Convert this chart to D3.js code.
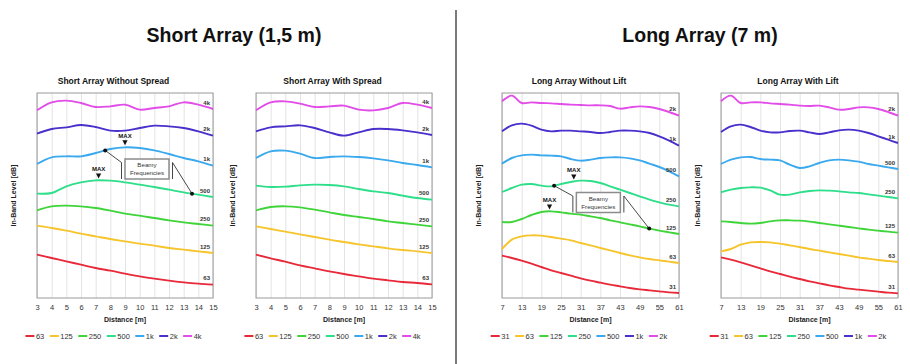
<!DOCTYPE html>
<html>
<head>
<meta charset="utf-8">
<script src="https://cdn.jsdelivr.net/npm/d3@7"></script>
<style>
  body { margin: 0; background: #fff; }
  svg { font-family: "Liberation Sans", Arial, sans-serif; }
</style>
</head>
<body>
<svg id="chart" width="910" height="364"></svg>
<script>
// distances [m]
const shortDistance = [3, 4, 5, 6, 7, 8, 9, 10, 11, 12, 13, 14, 15];
const longDistance = [7, 10, 13, 16, 19, 22, 25, 28, 31, 34, 37, 40, 43, 46, 49, 52, 55, 58, 61];
const shortTicks = [3, 4, 5, 6, 7, 8, 9, 10, 11, 12, 13, 14, 15];
const longTicks = [7, 13, 19, 25, 31, 37, 43, 49, 55, 61];

const shortBands = ["63", "125", "250", "500", "1k", "2k", "4k"];
const longBands = ["31", "63", "125", "250", "500", "1k", "2k"];
const bandColors = ["#e8293a", "#f6c42b", "#3fd43a", "#2fde8a", "#3aa9ee", "#4930cc", "#e24ce8"];

// in-band level (relative dB, offset per band), one row per band, lowest band first
const shortWithoutSpread = [
  [13.0, 12.0, 11.0, 10.0, 9.0, 8.2, 7.3, 6.5, 5.8, 5.2, 4.7, 4.3, 4.0],
  [21.7, 21.0, 20.2, 19.3, 18.5, 17.7, 17.0, 16.3, 15.7, 15.0, 14.5, 14.0, 13.5],
  [26.3, 27.5, 27.7, 27.5, 27.0, 26.2, 25.3, 24.7, 24.0, 23.3, 22.7, 22.2, 21.7],
  [31.3, 31.5, 33.5, 34.7, 35.3, 35.2, 34.7, 34.0, 33.3, 32.5, 31.7, 31.0, 30.3],
  [40.2, 42.2, 42.5, 42.5, 43.5, 44.7, 45.2, 45.0, 44.3, 43.2, 42.0, 41.0, 39.7],
  [49.3, 50.7, 51.2, 51.9, 51.3, 50.2, 50.2, 51.0, 51.7, 51.5, 51.0, 50.0, 48.7],
  [56.3, 58.7, 59.2, 58.5, 57.3, 57.5, 58.0, 56.5, 57.0, 57.5, 58.7, 58.0, 56.7]
];
const shortWithSpread = [
  [13.0, 11.9, 10.9, 9.8, 8.9, 8.0, 7.2, 6.5, 5.8, 5.3, 4.8, 4.5, 4.1],
  [21.5, 20.7, 19.9, 19.1, 18.3, 17.5, 16.8, 16.1, 15.5, 14.9, 14.4, 14.0, 13.5],
  [26.3, 27.3, 27.5, 27.2, 26.5, 25.7, 24.9, 24.3, 23.7, 23.0, 22.5, 22.0, 21.5],
  [33.7, 33.3, 33.4, 33.8, 34.0, 33.9, 33.5, 32.7, 32.0, 31.5, 30.7, 30.0, 29.5],
  [42.0, 44.0, 44.2, 43.3, 42.0, 42.3, 42.5, 42.3, 41.9, 41.3, 40.5, 39.9, 39.2],
  [50.0, 51.2, 51.5, 51.8, 51.0, 49.7, 48.7, 49.7, 50.7, 50.7, 50.3, 49.7, 48.9],
  [56.3, 58.7, 59.0, 58.3, 57.3, 57.5, 57.7, 56.5, 56.3, 57.0, 58.5, 58.0, 57.0]
];
const longWithoutLift = [
  [12.7, 12.0, 11.2, 10.3, 9.3, 8.3, 7.5, 6.7, 5.9, 5.2, 4.6, 4.0, 3.5, 3.0, 2.6, 2.3, 2.0, 1.7, 1.5],
  [14.7, 17.5, 18.5, 18.8, 18.7, 18.3, 17.8, 17.3, 16.5, 15.8, 15.0, 14.3, 13.5, 12.8, 12.2, 11.7, 11.3, 10.9, 10.5],
  [22.8, 22.8, 23.7, 24.9, 25.8, 26.0, 25.7, 25.3, 25.0, 24.5, 24.0, 23.3, 22.7, 22.1, 21.5, 20.8, 20.2, 19.7, 19.2],
  [31.8, 33.0, 34.0, 34.2, 33.7, 33.5, 34.2, 34.8, 35.2, 35.1, 34.5, 33.5, 32.5, 31.5, 30.5, 29.5, 28.7, 28.0, 27.5],
  [40.3, 42.0, 42.8, 43.0, 42.8, 42.7, 42.5, 41.7, 41.2, 41.5, 42.0, 42.2, 42.2, 41.9, 41.3, 40.3, 39.3, 38.0, 36.5],
  [50.0, 51.8, 52.3, 51.7, 50.5, 50.0, 50.2, 50.2, 50.0, 49.8, 49.5, 49.8, 50.2, 50.2, 50.0, 49.5, 48.5, 47.2, 45.7],
  [59.0, 60.7, 58.5, 58.7, 58.5, 58.4, 58.2, 58.0, 57.9, 57.8, 57.8, 57.6, 56.8, 57.2, 57.5, 57.3, 56.7, 55.8, 54.7]
];
const longWithLift = [
  [12.2, 11.5, 10.7, 9.8, 8.9, 8.0, 7.2, 6.4, 5.7, 5.0, 4.4, 3.8, 3.3, 2.8, 2.5, 2.2, 1.9, 1.6, 1.4],
  [14.0, 14.7, 16.0, 16.7, 16.8, 16.7, 16.3, 15.8, 15.3, 14.7, 14.2, 13.7, 13.2, 12.7, 12.2, 11.8, 11.4, 11.1, 10.8],
  [23.0, 22.8, 22.5, 22.3, 22.5, 23.0, 23.3, 23.3, 23.2, 22.9, 22.5, 22.1, 21.7, 21.3, 20.9, 20.5, 20.2, 19.9, 19.6],
  [31.7, 32.5, 33.0, 33.2, 33.1, 32.3, 31.0, 31.0, 31.7, 32.1, 32.3, 32.2, 32.0, 31.7, 31.5, 31.1, 30.7, 30.3, 29.9],
  [40.2, 41.5, 42.2, 42.3, 41.7, 41.5, 41.3, 40.0, 39.0, 39.5, 40.5, 41.3, 41.5, 41.3, 40.9, 40.2, 39.7, 39.2, 38.7],
  [49.8, 51.5, 52.0, 51.3, 50.2, 49.7, 49.7, 50.1, 50.2, 49.7, 49.2, 49.7, 50.3, 50.5, 50.2, 49.5, 48.5, 47.5, 46.5],
  [59.0, 60.7, 58.5, 58.7, 58.7, 58.4, 58.2, 58.0, 57.7, 57.6, 57.7, 57.2, 56.5, 56.7, 57.2, 57.2, 56.7, 55.8, 54.7]
];

// annotations: [band, distance]
const shortMaxMarks = [["1k", 9.0], ["500", 7.2]];
const shortBeamy = [["1k", 7.65], ["500", 13.57]];
const shortBox = [10.5, 38.7];
const longMaxMarks = [["250", 28.9], ["125", 21.5]];
const longBeamy = [["250", 22.9], ["125", 51.9]];
const longBox = [36.4, 28.65];

const plotTop = 93, plotBottom = 298;
const panels = [
  { title: "Short Array Without Spread", left: 37, right: 213, dist: shortDistance, ticks: shortTicks,
    bands: shortBands, data: shortWithoutSpread, max: shortMaxMarks, beamy: shortBeamy, box: shortBox },
  { title: "Short Array With Spread", left: 256, right: 432, dist: shortDistance, ticks: shortTicks,
    bands: shortBands, data: shortWithSpread },
  { title: "Long Array Without Lift", left: 502, right: 679, dist: longDistance, ticks: longTicks,
    bands: longBands, data: longWithoutLift, max: longMaxMarks, beamy: longBeamy, box: longBox },
  { title: "Long Array With Lift", left: 721, right: 898, dist: longDistance, ticks: longTicks,
    bands: longBands, data: longWithLift }
];

const svg = d3.select("#chart");
svg.append("rect").attr("width", 910).attr("height", 364).attr("fill", "#fff");

// section headings + divider
svg.append("text").attr("x", 234).attr("y", 42).attr("text-anchor", "middle")
  .attr("font-size", 19.5).attr("font-weight", "bold").attr("fill", "#111").text("Short Array (1,5 m)");
svg.append("text").attr("x", 700).attr("y", 42).attr("text-anchor", "middle")
  .attr("font-size", 19.5).attr("font-weight", "bold").attr("fill", "#111").text("Long Array (7 m)");
svg.append("line").attr("x1", 456).attr("x2", 456).attr("y1", 10).attr("y2", 364)
  .attr("stroke", "#222").attr("stroke-width", 1.2);

// value on curve at a distance (for annotation placement)
function levelAt(dist, vals, d) {
  const i = Math.min(d3.bisectRight(dist, d) - 1, dist.length - 2);
  const t = (d - dist[i]) / (dist[i + 1] - dist[i]);
  return vals[i] + (vals[i + 1] - vals[i]) * t;
}

panels.forEach(p => {
  const x = d3.scaleLinear().domain(d3.extent(p.dist)).range([p.left, p.right]);
  const y = d3.scaleLinear().domain([0, 61.5]).range([plotBottom, plotTop]);
  const g = svg.append("g");
  const cx = (p.left + p.right) / 2;

  // title
  g.append("text").attr("x", cx - 11.5).attr("y", 84).attr("text-anchor", "middle")
    .attr("font-size", 8.5).attr("font-weight", "bold").attr("fill", "#111").text(p.title);

  // vertical grid
  g.append("g")
    .attr("transform", `translate(0,${plotBottom})`)
    .call(d3.axisBottom(x).tickValues(p.ticks).tickSize(-(plotBottom - plotTop)).tickFormat(""))
    .call(a => a.select(".domain").remove())
    .call(a => a.selectAll("line").attr("stroke", "#dcdcdc").attr("stroke-width", 0.8));

  // frame
  g.append("rect").attr("x", p.left).attr("y", plotTop)
    .attr("width", p.right - p.left).attr("height", plotBottom - plotTop)
    .attr("fill", "none").attr("stroke", "#9a9a9a").attr("stroke-width", 1);

  // x tick labels
  g.append("g")
    .attr("transform", `translate(0,${plotBottom})`)
    .call(d3.axisBottom(x).tickValues(p.ticks).tickSize(0).tickPadding(7))
    .call(a => a.select(".domain").remove())
    .call(a => a.selectAll("text").attr("font-size", 7.5).attr("fill", "#333")
      .attr("font-family", "Liberation Sans, Arial, sans-serif"));

  g.append("text").attr("x", cx).attr("y", 322).attr("text-anchor", "middle")
    .attr("font-size", 7).attr("font-weight", "bold").attr("fill", "#222").text("Distance [m]");

  g.append("text")
    .attr("transform", `translate(${p.left - 21},${(plotTop + plotBottom) / 2}) rotate(-90)`)
    .attr("text-anchor", "middle").attr("font-size", 7).attr("font-weight", "bold").attr("fill", "#222")
    .text("In-Band Level [dB]");

  // curves
  const line = d3.line()
    .x((d, i) => x(p.dist[i]))
    .y(d => y(d))
    .curve(d3.curveCatmullRom.alpha(0.5));

  p.data.forEach((vals, i) => {
    g.append("path").attr("d", line(vals)).attr("fill", "none")
      .attr("stroke", bandColors[i]).attr("stroke-width", 1.9);
    g.append("text").attr("x", p.right - 3).attr("y", y(vals[vals.length - 1]) - 4.5)
      .attr("text-anchor", "end").attr("font-size", 6).attr("font-weight", "bold").attr("fill", "#333")
      .text(p.bands[i]);
  });

  // MAX markers
  (p.max || []).forEach(([band, d]) => {
    const vals = p.data[p.bands.indexOf(band)];
    const px = x(d), py = y(levelAt(p.dist, vals, d)) - 2;
    g.append("path").attr("d", `M${px - 2.6},${py - 5}L${px + 2.6},${py - 5}L${px},${py}Z`).attr("fill", "#111");
    g.append("text").attr("x", px).attr("y", py - 7.5).attr("text-anchor", "middle")
      .attr("font-size", 6).attr("font-weight", "bold").attr("fill", "#111").text("MAX");
  });

  // "Beamy Frequencies" callout
  if (p.beamy) {
    const bx = x(p.box[0]), by = y(p.box[1]);
    const bw = 44, bh = 20;
    const lx = bx - bw / 2 - 3.5, rx = bx + bw / 2 + 3.5, hy = by - bh / 2 + 3.5;
    const pts = p.beamy.map(([band, d]) => [x(d), y(levelAt(p.dist, p.data[p.bands.indexOf(band)], d))]);

    g.append("rect").attr("x", bx - bw / 2).attr("y", by - bh / 2).attr("width", bw).attr("height", bh)
      .attr("fill", "#fff").attr("stroke", "#8c8c8c").attr("stroke-width", 1.5);
    g.append("path")
      .attr("d", `M${pts[0][0]},${pts[0][1]}L${lx},${hy}L${lx},${by + bh / 2}` +
                 `M${rx},${by + bh / 2}L${rx},${hy}L${pts[1][0]},${pts[1][1]}`)
      .attr("fill", "none").attr("stroke", "#333").attr("stroke-width", 0.9);
    pts.forEach(pt => g.append("circle").attr("cx", pt[0]).attr("cy", pt[1]).attr("r", 2).attr("fill", "#111"));
    g.append("text").attr("x", bx).attr("y", by - 2).attr("text-anchor", "middle")
      .attr("font-size", 6.2).attr("fill", "#333").text("Beamy");
    g.append("text").attr("x", bx).attr("y", by + 6).attr("text-anchor", "middle")
      .attr("font-size", 6.2).attr("fill", "#333").text("Frequencies");
  }

  // legend
  const lg = g.append("g");
  let off = 0;
  p.bands.forEach((b, i) => {
    const it = lg.append("g").attr("transform", `translate(${off},0)`);
    it.append("line").attr("x1", 0).attr("x2", 9).attr("stroke", bandColors[i]).attr("stroke-width", 2);
    const t = it.append("text").attr("x", 10.5).attr("dy", "0.35em").attr("font-size", 7.5)
      .attr("fill", "#333").text(b);
    off += 10.5 + t.node().getComputedTextLength() + 5.5;
  });
  const lw = off - 5.5;
  lg.attr("transform", `translate(${cx - 11.5 - lw / 2},336)`);
});
</script>
</body>
</html>
